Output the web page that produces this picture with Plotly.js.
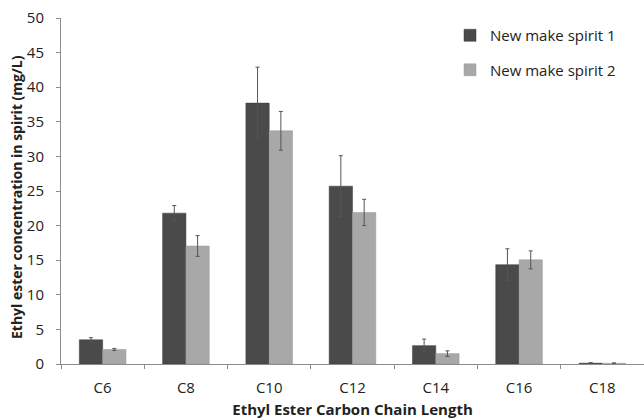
<!DOCTYPE html>
<html><head><meta charset="utf-8">
<script src="https://cdn.plot.ly/plotly-3.0.1.min.js"></script>
<style>body{margin:0;}#c{width:644px;height:420px;}</style>
</head><body><div id="c"></div>
<script>
const categories = ["C6","C8","C10","C12","C14","C16","C18"];
const spirit1 = [3.5, 21.8, 37.7, 25.7, 2.65, 14.35, 0.12];
const spirit1Err = [0.3, 1.1, 5.2, 4.4, 0.95, 2.3, 0.08];
const spirit2 = [2.1, 17.05, 33.7, 21.9, 1.5, 15.05, 0.1];
const spirit2Err = [0.15, 1.5, 2.8, 1.9, 0.4, 1.3, 0.06];
const names = ["New make spirit 1", "New make spirit 2"];
const yTicks = [0,5,10,15,20,25,30,35,40,45,50];
const xTitle = "Ethyl Ester Carbon Chain Length";
const yTitle = "Ethyl ester concentration in spirit (mg/L)";

const font = "Open Sans, Liberation Sans, sans-serif";
const L = 61, R = 0, T = 18, B = 56, W = 644, H = 420;
const pw = W - L - R, ph = H - T - B;
const traces = [
  {type:"bar", x:categories, y:spirit1, name:names[0], legendgroup:"a",
   marker:{color:"#4a4a4a", line:{color:"#3a3a3a", width:0.5}},
   error_y:{type:"data", array:spirit1Err, visible:true, color:"#555", thickness:1, width:2}},
  {type:"bar", x:categories, y:spirit2, name:names[1], legendgroup:"b",
   marker:{color:"#a8a8a8", line:{color:"#999", width:0.5}},
   error_y:{type:"data", array:spirit2Err, visible:true, color:"#555", thickness:1, width:2}}
];
const layout = {
  width:W, height:H,
  margin:{l:L, r:R, t:T, b:B},
  paper_bgcolor:"#fff", plot_bgcolor:"#fff",
  barmode:"group", bargap:0.44, bargroupgap:0,
  font:{family:font, color:"#222", size:15},
  showlegend:true,
  legend:{x:(450 - L)/pw, y:0.997, xanchor:"left", yanchor:"top", bgcolor:"rgba(0,0,0,0)",
    font:{size:15, family:font, color:"#222"}, tracegroupgap:12, traceorder:"grouped",
    itemwidth:30},
  xaxis:{type:"category", showline:true, linecolor:"#8c8c8c", linewidth:1,
    ticks:"outside", tickson:"boundaries", ticklen:4, tickcolor:"#8c8c8c",
    tickfont:{size:15}, ticklabelstandoff:10, showgrid:false, zeroline:false,
    title:{text:"<b>" + xTitle + "</b>", font:{size:15}, standoff:8}},
  yaxis:{range:[0,50], tickvals:yTicks, showline:true, linecolor:"#8c8c8c", linewidth:1,
    ticks:"outside", ticklen:4, tickcolor:"#8c8c8c", showgrid:false, zeroline:false,
    tickfont:{size:15}, ticklabelstandoff:9},
  annotations:[
    {text:"<b>" + yTitle + "</b>", textangle:-90, showarrow:false,
     xref:"paper", yref:"paper", x:(17 - L)/pw, y:(H - B - 197)/ph,
     xanchor:"center", yanchor:"middle", font:{size:14, family:font, color:"#222"}}
  ]
};
Plotly.newPlot("c", traces, layout, {staticPlot:true});
</script></body></html>
